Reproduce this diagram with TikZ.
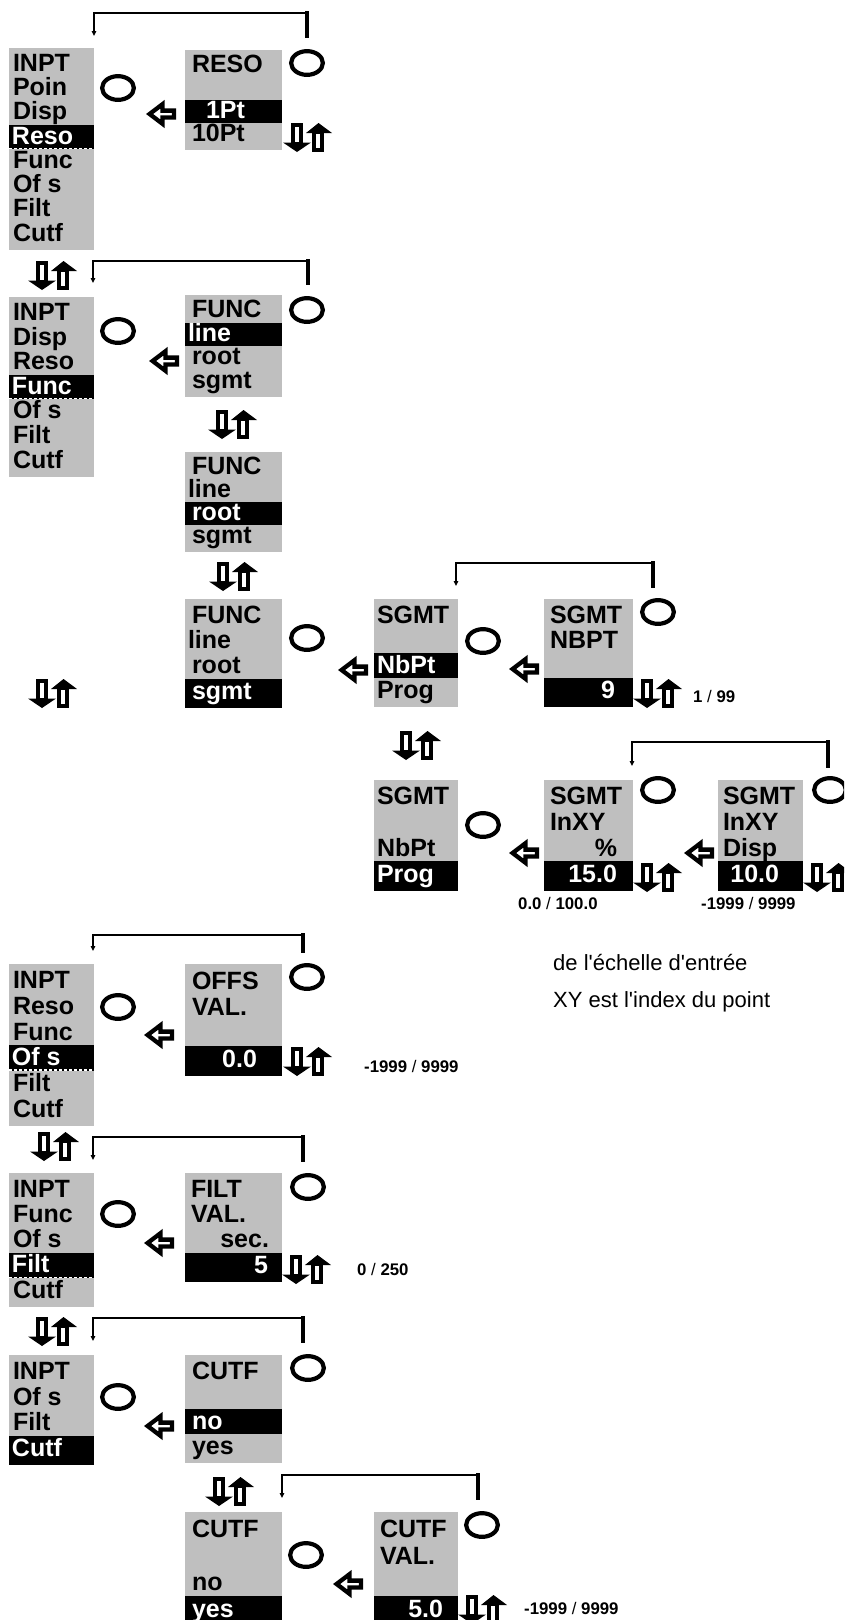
\documentclass[tikz,border=0pt]{standalone}
\usepackage{fontspec}
\setmainfont{Liberation Sans}
\newfontfamily\notefont{Liberation Sans}[Ligatures=TeXOff]
\usetikzlibrary{shapes.geometric,arrows.meta}
\definecolor{boxgray}{RGB}{191,191,191}
\tikzset{
  boxbg/.style={draw=none, fill=boxgray, inner sep=0pt, outer sep=0pt, rectangle},
  rowtxt/.style={inner sep=0pt, outer sep=0pt, font=\fontsize{25}{25}\selectfont\bfseries},
  ring/.style={ellipse, draw, line width=4.2pt, minimum width=31.7pt, minimum height=23.7pt, inner sep=0pt},
  rng/.style={inner sep=0pt, anchor=base west, font=\fontsize{16.8}{17}\selectfont},
  note/.style={inner sep=0pt, anchor=base west, font=\notefont\fontsize{22}{22}\selectfont},
  brkv/.style={line width=4pt, line cap=rect},
  brkh/.style={line width=2.8pt, line cap=rect},
  brka/.style={line width=1.3pt, -{Triangle[length=5pt,width=4.5pt]}},
  updown/.pic={
    \draw[line width=3.7pt, fill=white] (10,1.9) rectangle (18,21);
    \fill (0,19.5) -- (28,19.5) -- (14,29) -- cycle;
    \draw[line width=3.7pt, fill=white] (31,9) rectangle (39,27.1);
    \fill (23,10) -- (49,10) -- (35.5,0) -- cycle;
  },
  lftarrow/.pic={
    \draw[line width=4.3pt, fill=white, line join=miter]
      (2.6,0) -- (15.5,-9.8) -- (15.5,-3.4) -- (27,-3.4) -- (27,3.4)
      -- (15.5,3.4) -- (15.5,9.8) -- cycle;
  }
}
% #1 name, #2 left, #3 top, #4 right, #5 bottom, #6 rows text/kind/offset
\newcommand\menuBox[6]{%
  \pgfmathsetmacro\mbW{#4-#2}%
  \pgfmathsetmacro\mbH{#5-#3}%
  \node[boxbg, minimum width=\mbW pt, minimum height=\mbH pt, anchor=north west] (#1) at (#2,#3) {};
  \foreach \txt/\knd/\off [count=\ri] in {#6}{\xdef\mbN{\ri}}%
  \pgfmathsetmacro\mbP{(\mbH-8)/\mbN}%
  \foreach \txt/\knd/\off [count=\ri from 0] in {#6}{%
    \pgfmathsetmacro\mbRt{#3+4+\ri*\mbP}%
    \pgfmathsetmacro\mbRb{\mbRt+\mbP}%
    \def\mbCol{black}%
    \if h\knd \fill (#2,\mbRt) rectangle (#4,\mbRb); \def\mbCol{white}\fi
    \if d\knd \fill (#2,\mbRt) rectangle (#4,\mbRb);
      \draw[white, line width=1.2pt, dash pattern=on 3pt off 2pt] (#2,\mbRb-0.6) -- (#4,\mbRb-0.6);
      \def\mbCol{white}\fi
    \if H\knd \fill (#2,\mbRt) rectangle (#4,#5); \def\mbCol{white}\fi
    \if e\knd\else
      \pgfmathsetmacro\mbTx{\off<0 ? #4+\off : #2+\off}%
      \pgfmathtruncatemacro\mbNeg{\off<0 ? 1 : 0}%
      \ifnum\mbNeg=1 \def\mbAnc{base east}\else\def\mbAnc{base west}\fi
      \node[rowtxt, text=\mbCol, anchor=\mbAnc] (#1-\ri) at (\mbTx,\mbRb-5) {\txt};
    \fi
  }%
}
% #1 name, #2 x left, #3 x right, #4 y top, #5 y bottom
\newcommand\bracketLink[5]{%
  \coordinate (#1r) at (#3,#5);
  \coordinate (#1rt) at (#3,#4);
  \coordinate (#1lt) at (#2,#4);
  \coordinate (#1l) at (#2,#5);
  \draw[brkv] (#1r) -- (#1rt);
  \draw[brkh] (#1rt) -- (#1lt);
  \draw[brka] (#1lt) -- (#1l);
}
\begin{document}
\begin{tikzpicture}[x=1pt,y=-1pt]
\useasboundingbox (0,0) rectangle (844,1620);
\clip (0,0) rectangle (844,1620);

% ---------- RESO section ----------
\bracketLink{bA}{94}{307}{13}{36}
\menuBox{mA}{9}{48}{94}{250}{INPT/n/4, Poin/n/4, Disp/n/4, Reso/d/3, Func/n/4, Of s/n/4, Filt/n/4, Cutf/n/4}
\menuBox{reso}{185}{50}{282}{150}{RESO/n/7, x/e/7, 1Pt/h/21, 10Pt/n/7}
\node[ring] (rA) at (307,63) {};
\node[ring] (lA) at (118,88) {};
\pic (aA) at (147,114) {lftarrow};
\pic (uA) at (283,123) {updown};

% ---------- FUNC section ----------
\pic (uB) at (28,261) {updown};
\bracketLink{bB}{93}{308}{261}{283}
\menuBox{mB}{9}{297}{94}{477}{INPT/n/4, Disp/n/4, Reso/n/4, Func/d/3, Of s/n/4, Filt/n/4, Cutf/n/4}
\menuBox{fA}{185}{295}{282}{397}{FUNC/n/7, line/h/3, root/n/7, sgmt/n/7}
\node[ring] (rB) at (307,310) {};
\node[ring] (lB) at (118,331) {};
\pic (aB) at (150,361) {lftarrow};
\pic (uC) at (208,410) {updown};
\menuBox{fB}{185}{452}{282}{552}{FUNC/n/7, line/n/3, root/h/7, sgmt/n/7}
\pic (uD) at (209,562) {updown};
\menuBox{fC}{185}{599}{282}{708}{FUNC/n/7, line/n/3, root/n/7, sgmt/H/7}
\node[ring] (rC) at (307,638) {};
\pic (uE) at (28,679) {updown};

% ---------- SGMT section ----------
\bracketLink{bC}{456}{653}{563}{586}
\pic (aC) at (339,670) {lftarrow};
\menuBox{sA}{374}{599}{458}{707}{SGMT/n/3, x/e/3, NbPt/h/3, Prog/n/3}
\node[ring] (rD) at (483,641) {};
\pic (aD) at (510,669) {lftarrow};
\menuBox{sN}{544}{599}{633}{707}{SGMT/n/6, NBPT/n/6, x/e/6, 9/H/-18}
\node[ring] (rE) at (658,612) {};
\pic (uF) at (633,679) {updown};
\node[rng] (l199) at (693,702) {\textbf{1} / \textbf{99}};

\pic (uG) at (392,731) {updown};
\bracketLink{bD}{632}{828}{742}{766}
\menuBox{sB}{374}{780}{458}{891}{SGMT/n/3, x/e/3, NbPt/n/3, Prog/H/3}
\node[ring] (rF) at (483,825) {};
\pic (aE) at (510,853) {lftarrow};
\menuBox{sP}{544}{780}{633}{891}{SGMT/n/6, InXY/n/6, \%/n/-16, 15.0/H/-16}
\node[ring] (rG) at (658,790) {};
\pic (uH) at (633,863) {updown};
\node[rng] (l0100) at (518,909) {\textbf{0.0} / \textbf{100.0}};
\pic (aF) at (685,853) {lftarrow};
\menuBox{sD}{718}{780}{803}{891}{SGMT/n/5, InXY/n/5, Disp/n/5, 10.0/H/-24}
\node[ring] (rH) at (830,790) {};
\pic (uI) at (803,863) {updown};
\node[rng] (l1999a) at (701,909) {\textbf{-1999} / \textbf{9999}};

% ---------- notes ----------
\node[note] (n1) at (553,970) {de l'échelle d'entrée};
\node[note] (n2) at (553,1007) {XY est l'index du point};

% ---------- OFFS section ----------
\bracketLink{bE}{93}{303}{935}{951}
\menuBox{mC}{9}{964}{94}{1126}{INPT/n/4, Reso/n/4, Func/n/4, Of s/d/3, Filt/n/4, Cutf/n/4}
\menuBox{oF}{185}{964}{282}{1076}{OFFS/n/7, VAL./n/7, x/e/7, 0.0/H/-25}
\node[ring] (rI) at (307,977) {};
\node[ring] (lC) at (118,1007) {};
\pic (aG) at (145,1035) {lftarrow};
\pic (uJ) at (283,1047) {updown};
\node[rng] (l1999b) at (364,1072) {\textbf{-1999} / \textbf{9999}};

% ---------- FILT section ----------
\pic (uK) at (30,1132) {updown};
\bracketLink{bF}{93}{303}{1137}{1160}
\menuBox{mD}{9}{1173}{94}{1307}{INPT/n/4, Func/n/4, Of s/n/4, Filt/d/3, Cutf/n/4}
\menuBox{fl}{185}{1173}{282}{1282}{FILT/n/6, VAL./n/6, sec./n/-13, 5/H/-14}
\node[ring] (rJ) at (308,1187) {};
\node[ring] (lD) at (118,1214) {};
\pic (aH) at (145,1243) {lftarrow};
\pic (uL) at (282,1255) {updown};
\node[rng] (l0250) at (357,1275) {\textbf{0} / \textbf{250}};

% ---------- CUTF section ----------
\pic (uM) at (28,1317) {updown};
\bracketLink{bG}{93}{303}{1318}{1341}
\menuBox{mE}{9}{1355}{94}{1465}{INPT/n/4, Of s/n/4, Filt/n/4, Cutf/H/3}
\menuBox{cA}{185}{1355}{282}{1463}{CUTF/n/7, x/e/7, no/h/7, yes/n/7}
\node[ring] (rK) at (308,1368) {};
\node[ring] (lE) at (118,1397) {};
\pic (aI) at (145,1426) {lftarrow};
\pic (uN) at (205,1477) {updown};
\bracketLink{bH}{282}{478}{1475}{1498}
\menuBox{cB}{185}{1512}{282}{1626}{CUTF/n/7, x/e/7, no/n/7, yes/H/7}
\node[ring] (rL) at (306,1555) {};
\pic (aJ) at (334,1584) {lftarrow};
\menuBox{cV}{374}{1512}{458}{1626}{CUTF/n/6, VAL./n/6, x/e/6, 5.0/H/-15}
\node[ring] (rM) at (482,1525) {};
\pic (uO) at (458,1595) {updown};
\node[rng] (l1999c) at (524,1614) {\textbf{-1999} / \textbf{9999}};
\end{tikzpicture}
\end{document}
